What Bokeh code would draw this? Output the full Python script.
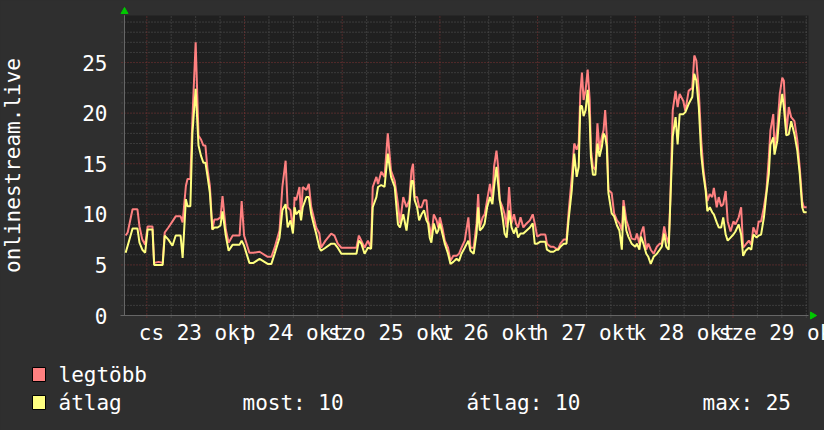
import math
from bokeh.plotting import figure
from bokeh.models import Range1d
from bokeh.core.properties import value
from bokeh.embed import file_html
from bokeh.resources import INLINE

# ---- data (hours since 2025-10-23 00:00) ----
hours = [-5.2, -4.7, -3.5, -2.3, -1.8, -1.1, -0.4, 0.2, 1.4, 1.8, 2.9, 3.9, 4.4, 5.3, 6.3, 7.1,
         8.3, 8.8, 9.6, 10.0, 10.7, 11.2, 12.0, 12.7, 13.3, 13.9, 14.4, 14.9, 15.5, 16.1, 16.6,
         17.4, 18.1, 18.6, 19.4, 20.1, 21.1, 22.0, 22.8, 23.3, 23.9, 25.2, 26.2, 27.7,
         29.7, 30.6, 31.4, 32.6, 33.3, 34.1, 34.6, 35.3, 35.9, 36.3, 36.7, 37.5, 37.9, 38.3,
         39.2, 39.8, 40.4, 41.2, 41.6, 42.4, 42.8, 43.9, 45.3, 46.1, 46.9, 47.8, 49.1, 50.3,
         51.5, 52.1, 52.7, 53.5, 54.3, 55.1, 55.5, 56.4, 56.8, 57.6, 58.4, 59.2, 60.0, 60.9, 61.7,
         62.2, 63.0, 63.8, 64.5, 65.0, 65.4, 65.8, 66.4, 66.9, 67.5, 68.1, 68.7, 69.1, 69.5,
         69.9, 70.5, 71.2, 71.6, 72.0, 72.6, 73.2, 74.0, 74.6, 75.3, 76.1, 76.7, 77.3, 78.1,
         79.0, 79.5, 80.3, 81.0, 81.4, 81.8, 82.5, 83.0, 83.6, 84.3, 84.9, 85.3, 85.9, 86.3,
         86.7, 87.4, 87.9, 88.4, 89.0, 89.6, 90.2, 90.7, 91.2, 91.8, 92.5, 93.3, 94.1, 94.8, 95.3,
         95.9, 96.7, 97.9, 98.3, 99.2, 99.9, 100.6, 101.1, 101.6, 102.4, 103.1, 103.6, 104.4,
         105.0, 105.6, 106.1, 106.5, 106.9, 107.3, 107.8, 108.3, 108.8, 109.1, 109.6, 110.2,
         110.7, 111.2, 111.8, 112.2, 112.6, 113.0, 113.4, 114.2, 114.8, 115.5, 116.1, 116.7,
         117.1, 117.8, 118.3, 119.1, 120.0, 120.4, 121.0, 121.4, 122.0, 122.7, 123.2, 123.8,
         124.5, 125.3, 126.0, 126.5, 127.1, 127.6, 128.2, 128.6, 129.2,
         129.9, 130.4, 130.9, 131.8, 132.3, 133.1, 134.0, 134.5, 135.0, 135.6, 136.2, 136.7,
         137.3, 137.7, 138.3, 138.9, 139.3, 140.0, 140.5, 141.1, 141.6, 142.2, 142.7, 143.4,
         144.1, 144.6, 145.4, 146.0, 146.5, 147.1, 147.9, 148.5, 149.0, 149.8, 150.3, 150.9,
         151.6, 152.2, 152.8, 153.2, 153.9, 154.2, 154.9, 155.5, 156.1, 156.5, 157.1, 157.7,
         158.3, 159.1, 159.8, 160.4, 161.0, 161.4, 162.1]

legtobb = [7.9, 8.2, 10.5, 10.5, 8.8, 7.5, 7.0, 8.8, 8.8, 5.2, 5.3, 5.2, 8.2, 8.7, 9.3, 9.8,
           9.8, 9.2, 12.8, 13.5, 13.5, 19.4, 27.0, 17.8, 17.4, 16.8, 16.8, 14.5, 12.8, 8.5, 9.5,
           9.5, 9.7, 11.8, 8.5, 7.2, 7.9, 7.9, 7.9, 11.3, 7.9, 6.2, 6.2, 6.3,
           5.8, 5.8, 6.7, 8.4, 12.7, 15.3, 10.7, 10.4, 8.4, 11.7, 11.4, 12.7, 9.7, 12.7,
           12.4, 13.0, 10.7, 9.4, 8.7, 8.1, 6.7, 7.4, 8.1, 7.9, 7.1, 6.7, 6.7, 6.7,
           6.7, 7.9, 7.4, 6.7, 7.4, 6.7, 12.7, 13.7, 13.0, 14.2, 13.7, 18.0, 14.3, 13.3, 11.0,
           9.1, 11.7, 10.7, 11.4, 14.3, 15.0, 11.7, 11.7, 10.7, 10.7, 11.4, 11.4, 9.4, 8.7,
           7.7, 10.0, 9.4, 8.7, 9.7, 8.7, 7.4, 6.7, 5.4, 5.9, 5.9, 6.1, 6.7, 7.4,
           9.7, 6.7, 6.7, 9.1, 12.0, 8.7, 9.7, 10.0, 11.4, 13.0, 11.4, 14.7, 16.3, 14.7,
           11.4, 10.7, 10.0, 8.7, 12.7, 9.1, 10.0, 9.1, 8.7, 9.7, 8.7, 9.1, 9.4, 10.0, 9.1,
           7.8, 8.0, 8.0, 7.1, 6.8, 6.8, 6.6, 6.6, 7.1, 7.5, 7.5, 10.1, 13.7,
           17.0, 16.4, 17.0, 22.0, 24.0, 21.3, 22.3, 24.3, 21.3, 16.4, 14.7, 14.4,
           19.0, 16.4, 17.7, 18.3, 20.3, 17.7, 12.4, 12.1, 10.1, 9.4, 9.1, 8.4,
           11.4, 9.4, 8.8, 7.6, 7.5, 8.1, 7.1, 8.1, 8.8, 6.5, 7.1, 6.5,
           6.1, 6.8, 7.1, 7.1, 8.8, 7.8, 7.1, 11.4, 20.3,
           22.2, 20.6, 21.9, 21.2, 20.2, 22.2, 22.5, 25.7, 25.2, 22.2, 17.3, 14.6,
           12.6, 11.3, 12.0, 11.7, 12.6, 10.7, 11.7, 10.8, 11.0, 12.3, 9.3, 8.3,
           9.3, 9.0, 9.7, 10.7, 6.7, 7.0, 7.4, 7.0, 8.7, 8.0, 9.3, 9.3,
           10.7, 12.3, 15.6, 18.3, 19.9, 16.3, 18.6, 21.9, 23.5, 23.2, 17.9, 20.6,
           19.6, 19.2, 17.3, 14.6, 11.3, 10.7, 10.7]

atlag = [6.2, 6.9, 8.6, 8.6, 7.2, 6.5, 6.2, 8.5, 8.5, 5.0, 5.0, 5.0, 7.9, 7.5, 6.9, 7.9,
         7.9, 5.7, 11.5, 10.8, 10.8, 18.0, 22.4, 16.8, 15.8, 15.1, 15.1, 13.8, 12.1, 8.5, 8.7,
         8.7, 8.9, 10.3, 7.9, 6.4, 7.0, 7.0, 7.0, 7.4, 6.9, 5.2, 5.2, 5.6,
         5.1, 5.1, 6.1, 7.7, 10.4, 11.0, 8.7, 9.4, 8.1, 10.7, 10.0, 10.4, 9.4, 10.7,
         11.7, 11.7, 10.0, 8.7, 8.1, 6.7, 6.4, 6.7, 7.1, 7.1, 6.7, 6.1, 6.1, 6.1,
         6.1, 7.4, 7.1, 6.1, 6.7, 6.6, 10.7, 11.7, 12.7, 12.9, 12.7, 16.0, 13.7, 12.7, 9.0,
         8.7, 10.0, 8.4, 10.7, 13.3, 13.3, 11.4, 10.7, 9.4, 10.0, 10.4, 9.4, 9.1, 7.7,
         7.2, 9.1, 8.1, 8.4, 9.1, 8.1, 7.1, 6.1, 5.1, 5.3, 5.6, 5.4, 6.1, 6.7,
         7.4, 6.4, 6.1, 8.1, 10.7, 8.4, 8.7, 9.1, 10.7, 11.7, 11.0, 12.7, 14.7, 13.0,
         11.4, 9.7, 8.1, 7.7, 10.4, 8.7, 8.1, 8.7, 7.7, 8.1, 8.1, 8.4, 8.7, 9.1, 7.1,
         7.1, 7.3, 7.3, 6.5, 6.3, 6.3, 6.5, 6.5, 6.8, 7.1, 7.1, 9.4, 12.4,
         16.0, 13.7, 14.7, 20.7, 20.7, 19.7, 20.3, 22.3, 19.3, 15.7, 13.9, 13.9,
         17.0, 15.7, 16.7, 18.0, 17.7, 16.7, 12.1, 10.1, 9.8, 8.9, 8.4, 6.5,
         10.8, 8.4, 7.8, 7.1, 6.8, 7.1, 6.5, 7.8, 7.1, 6.1, 5.8, 5.1,
         5.8, 6.1, 6.5, 6.8, 8.1, 6.8, 6.5, 11.1, 17.7,
         19.6, 16.9, 19.9, 19.9, 20.1, 20.9, 21.6, 23.9, 23.2, 20.6, 15.9, 14.0,
         12.3, 10.3, 10.7, 10.2, 10.0, 9.2, 8.7, 8.7, 9.7, 8.0, 7.4, 7.7,
         8.0, 8.3, 9.0, 8.0, 5.9, 6.4, 6.7, 6.5, 8.0, 7.7, 7.9, 8.0,
         9.7, 12.0, 14.0, 16.9, 17.6, 15.9, 17.3, 20.2, 21.9, 20.6, 17.8, 17.9,
         19.2, 17.9, 16.3, 14.0, 10.7, 10.2, 10.2]

day_starts = [0, 24, 48, 72, 96, 120, 144]
six_hours = [6, 12, 18, 30, 36, 42, 54, 60, 66, 78, 84, 90, 102, 108, 114,
             126, 132, 138, 150, 156, 162]
label_hours = [12, 36, 60, 84, 108, 132, 156]
day_labels = ["cs 23 okt", "p 24 okt", "szo 25 okt", "v 26 okt",
              "h 27 okt", "k 28 okt", "sze 29 okt"]
y_ticks = [0, 5, 10, 15, 20, 25]
y_minor = [1, 2, 3, 4, 6, 7, 8, 9, 11, 12, 13, 14, 16, 17, 18, 19, 21, 22, 23, 24, 26, 27, 28, 29]
series_names = ["legtöbb", "átlag"]
series_colors = ["#ff8080", "#ffff80"]
stat_texts = ["most: 10", "átlag: 10", "max: 25"]
y_title = "onlinestream.live"

# ---- layout (pixel positions on the 824x430 canvas) ----
W, H = 824, 430
PL, PR, PT, PB = 124, 808, 15, 315          # plot area
X0, X1 = -5.48, 162.55                      # hours shown
Y0, Y1 = 0.0, 29.65                         # value range shown
KX = (X1 - X0) / (PR - PL)
KY = (Y1 - Y0) / (PB - PT)
MONO = "DejaVu Sans Mono"
FS = "21px"
TXT = "#ffffff"
BG = "#2f2f2f"
PLOT_BG = "#202020"
MAJOR = "#843636"
MINOR = "#575757"
AXIS = "#666666"


def dx(px):
    return X0 + (px - PL) * KX


def dy(py):
    return Y0 + (PB - py) * KY


p = figure(width=W, height=H,
           x_range=Range1d(dx(0), dx(W)), y_range=Range1d(dy(H), dy(0)),
           output_backend="svg", toolbar_location=None,
           x_axis_location=None, y_axis_location=None,
           min_border_left=0, min_border_right=0, min_border_top=0, min_border_bottom=0)
p.background_fill_color = BG
p.border_fill_color = BG
p.outline_line_color = None
p.grid.visible = False

# plot area
p.quad(left=[X0], right=[X1], bottom=[Y0], top=[Y1], fill_color=PLOT_BG, line_color=None)

# grid (minor gray, major red, both dotted) plus short ticks outside the axes
p.segment(x0=six_hours, y0=[dy(PB + 2)] * len(six_hours), x1=six_hours, y1=[Y1] * len(six_hours),
          line_color=MINOR, line_dash="1 2", line_width=1)
p.segment(x0=[dx(PL - 3)] * len(y_minor), y0=y_minor, x1=[X1] * len(y_minor), y1=y_minor,
          line_color=MINOR, line_dash="1 2", line_width=1)
p.segment(x0=day_starts, y0=[dy(PB + 2)] * len(day_starts), x1=day_starts,
          y1=[Y1] * len(day_starts), line_color=MAJOR, line_dash="1 2", line_width=1)
p.segment(x0=[dx(PL - 3)] * 5, y0=y_ticks[1:], x1=[X1] * 5, y1=y_ticks[1:],
          line_color=MAJOR, line_dash="1 2", line_width=1)

# axis lines
p.segment(x0=[X0, dx(PL - 4)], y0=[Y0, Y0], x1=[X0, X1], y1=[Y1, Y0],
          line_color=AXIS, line_width=1)
p.segment(x0=[X0], y0=[Y0], x1=[X0], y1=[Y1], line_color=AXIS, line_width=1)

# arrows at the ends of the axes
p.scatter(x=[X0], y=[dy(PT - 4)], marker="triangle", size=7, color="#00c800")
p.scatter(x=[dx(PR + 4)], y=[Y0], marker="triangle", size=7, color="#00c800",
          angle=-math.pi / 2)

# series
for vals, col in zip([legtobb, atlag], series_colors):
    p.line(hours, vals, line_color=col, line_width=2)

# tick labels
p.text(x=[dx(PL - 17)] * len(y_ticks), y=y_ticks, text=[str(t) for t in y_ticks],
       text_font=value(MONO), text_font_size=value(FS), text_color=TXT,
       text_align="right", text_baseline="middle")
p.text(x=label_hours, y=[dy(PB + 17)] * len(label_hours), text=day_labels,
       text_font=value(MONO), text_font_size=value(FS), text_color=TXT,
       text_align="center", text_baseline="middle")

# y axis title
p.text(x=[dx(12)], y=[(Y0 + Y1) / 2], text=[y_title], angle=math.pi / 2,
       text_font=value(MONO), text_font_size=value(FS), text_color=TXT,
       text_align="center", text_baseline="middle")

# legend
rows_y = [374, 402]
p.quad(left=[dx(32)] * 2, right=[dx(45)] * 2,
       top=[dy(r - 7) for r in rows_y], bottom=[dy(r + 7) for r in rows_y],
       fill_color=series_colors, line_color="#000000", line_width=1)
p.text(x=[dx(58)] * 2, y=[dy(r) for r in rows_y], text=series_names,
       text_font=value(MONO), text_font_size=value(FS), text_color=TXT,
       text_align="left", text_baseline="middle")
p.text(x=[dx(242), dx(466), dx(702)], y=[dy(rows_y[1])] * 3, text=stat_texts,
       text_font=value(MONO), text_font_size=value(FS), text_color=TXT,
       text_align="left", text_baseline="middle")

html = file_html(p, INLINE, title="onlinestream.live")
html = html.replace("</head>", "<style>html,body{background:#2f2f2f;}</style></head>", 1)
open("out.html", "w").write(html)
